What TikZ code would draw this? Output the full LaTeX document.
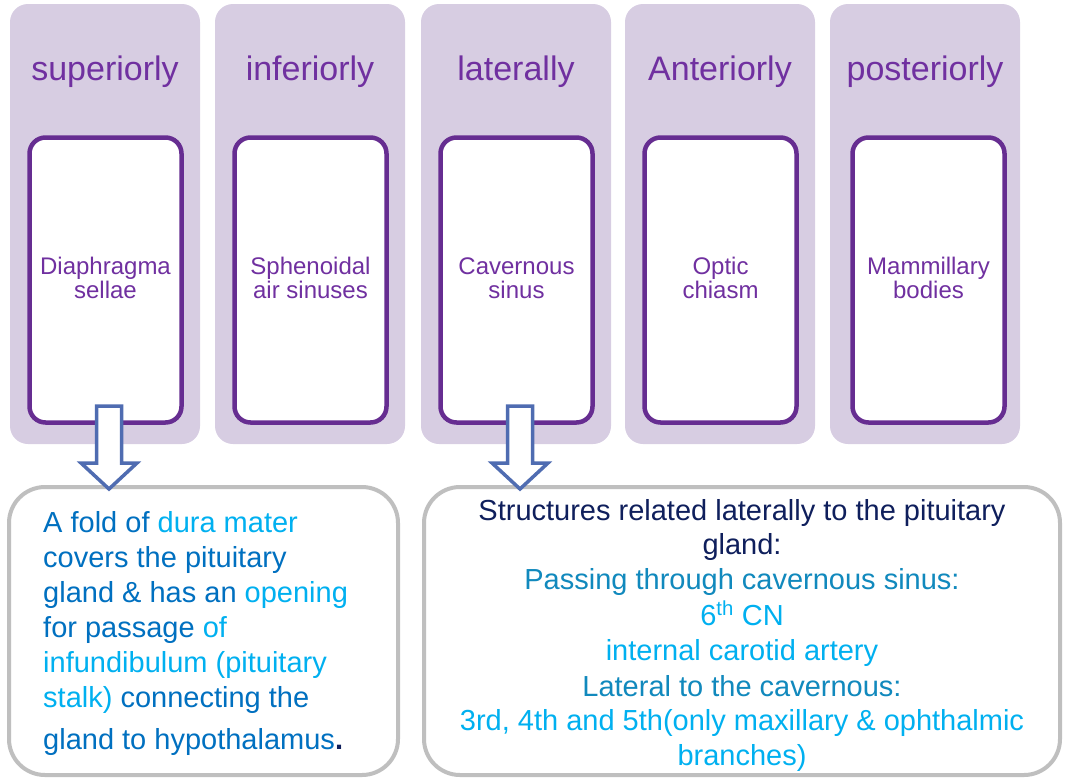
\documentclass[tikz,border=0pt]{standalone}
\usepackage{fontspec}
\setmainfont{Liberation Sans}
\definecolor{colfill}{HTML}{D7CDE2}
\definecolor{purp}{HTML}{662D91}
\definecolor{titlec}{HTML}{7030A0}
\definecolor{boxgray}{HTML}{BFBFBF}
\definecolor{arrowc}{HTML}{4F6CB1}
\definecolor{dblue}{HTML}{0070C0}
\definecolor{lblue}{HTML}{00B0F0}
\definecolor{navy}{HTML}{0F1F5C}
\definecolor{teal}{HTML}{1189BD}
\begin{document}
\begin{tikzpicture}[x=1pt,y=-1pt,
  colbox/.style={fill=colfill,draw=none,rounded corners=18pt,minimum width=190pt,minimum height=440pt,inner sep=0pt},
  innerbox/.style={fill=white,draw=purp,line width=4.5pt,rounded corners=16pt,minimum width=152pt,minimum height=285pt,inner sep=0pt},
  titletext/.style={anchor=base,text=titlec,font=\fontsize{34}{40}\selectfont,inner sep=0pt},
  boxtext/.style={text=titlec,font=\fontsize{24}{24.5}\selectfont,align=center,inner sep=0pt},
  notebox/.style={draw=boxgray,line width=4pt,rounded corners=36pt,fill=white,inner sep=0pt},
  lline/.style={anchor=base west,text=dblue,font=\fontsize{29}{35}\selectfont,inner sep=0pt},
  rline/.style={anchor=base,font=\fontsize{29}{35}\selectfont,inner sep=0pt},
  blockarrow/.style={draw=arrowc,fill=white,line width=3.5pt,line join=miter}
]
\useasboundingbox (0,0) rectangle (1067,779);

\foreach \i/\x/\bx/\t/\s in {1/105/105.5/superiorly/{Diaphragma\\sellae},
                         2/310/310.5/inferiorly/{Sphenoidal\\air sinuses},
                         3/516/516.5/laterally/{Cavernous\\sinus},
                         4/720/720.5/Anteriorly/{Optic\\chiasm},
                         5/925/928.5/posteriorly/{Mammillary\\bodies}}{
  \node[colbox] (c\i) at (\x,224) {};
  \node[titletext] (h\i) at (\x,80) {\t};
  \node[innerbox] (b\i) at (\bx,280) {};
  \node[boxtext] (s\i) at (\bx,278) {\s};
}

% bottom boxes
\node[notebox,minimum width=389pt,minimum height=288pt] (L) at (203.5,631) {};
\node[notebox,minimum width=636pt,minimum height=288pt] (R) at (742,631) {};

% left text
\node[lline] (l1) at (43,532) {A fold of \textcolor{lblue}{dura mater}};
\node[lline] (l2) at (43,567) {covers the pituitary};
\node[lline] (l3) at (43,602) {gland \& has an \textcolor{lblue}{opening}};
\node[lline] (l4) at (43,637) {for passage \textcolor{lblue}{of}};
\node[lline,text=lblue] (l5) at (43,672) {infundibulum (pituitary};
\node[lline] (l6) at (43,707) {\textcolor{lblue}{stalk)} connecting the};
\node[lline] (l7) at (43,749) {gland to hypothalamus\textcolor{navy}{\textbf{.}}};

% right text
\node[rline,text=navy] (r1) at (742,520) {Structures related laterally to the pituitary};
\node[rline,text=navy] (r2) at (742,554) {gland:};
\node[rline,text=teal] (r3) at (742,589) {Passing through cavernous sinus:};
\node[rline,text=lblue] (r4) at (742,625) {6\textsuperscript{th} CN};
\node[rline,text=lblue] (r5) at (742,660) {internal carotid artery};
\node[rline,text=teal] (r6) at (742,696) {Lateral to the cavernous:};
\node[rline,text=lblue] (r7) at (742,730) {3rd, 4th and 5th(only maxillary \& ophthalmic};
\node[rline,text=lblue] (r8) at (742,765) {branches)};

% block arrows
\foreach \n/\ax in {1/109,2/520}{
  \coordinate (at\n) at (\ax,406);
  \coordinate (ap\n) at (\ax,489);
  \draw[blockarrow] ([xshift=-12.5pt]at\n) -- ([xshift=12.5pt]at\n) -- ++(0,57) -- ++(15.5,0) -- (ap\n) -- ([xshift=-28pt]at\n |- 0,463) -- ++(15.5,0) -- cycle;
}
\end{tikzpicture}
\end{document}
